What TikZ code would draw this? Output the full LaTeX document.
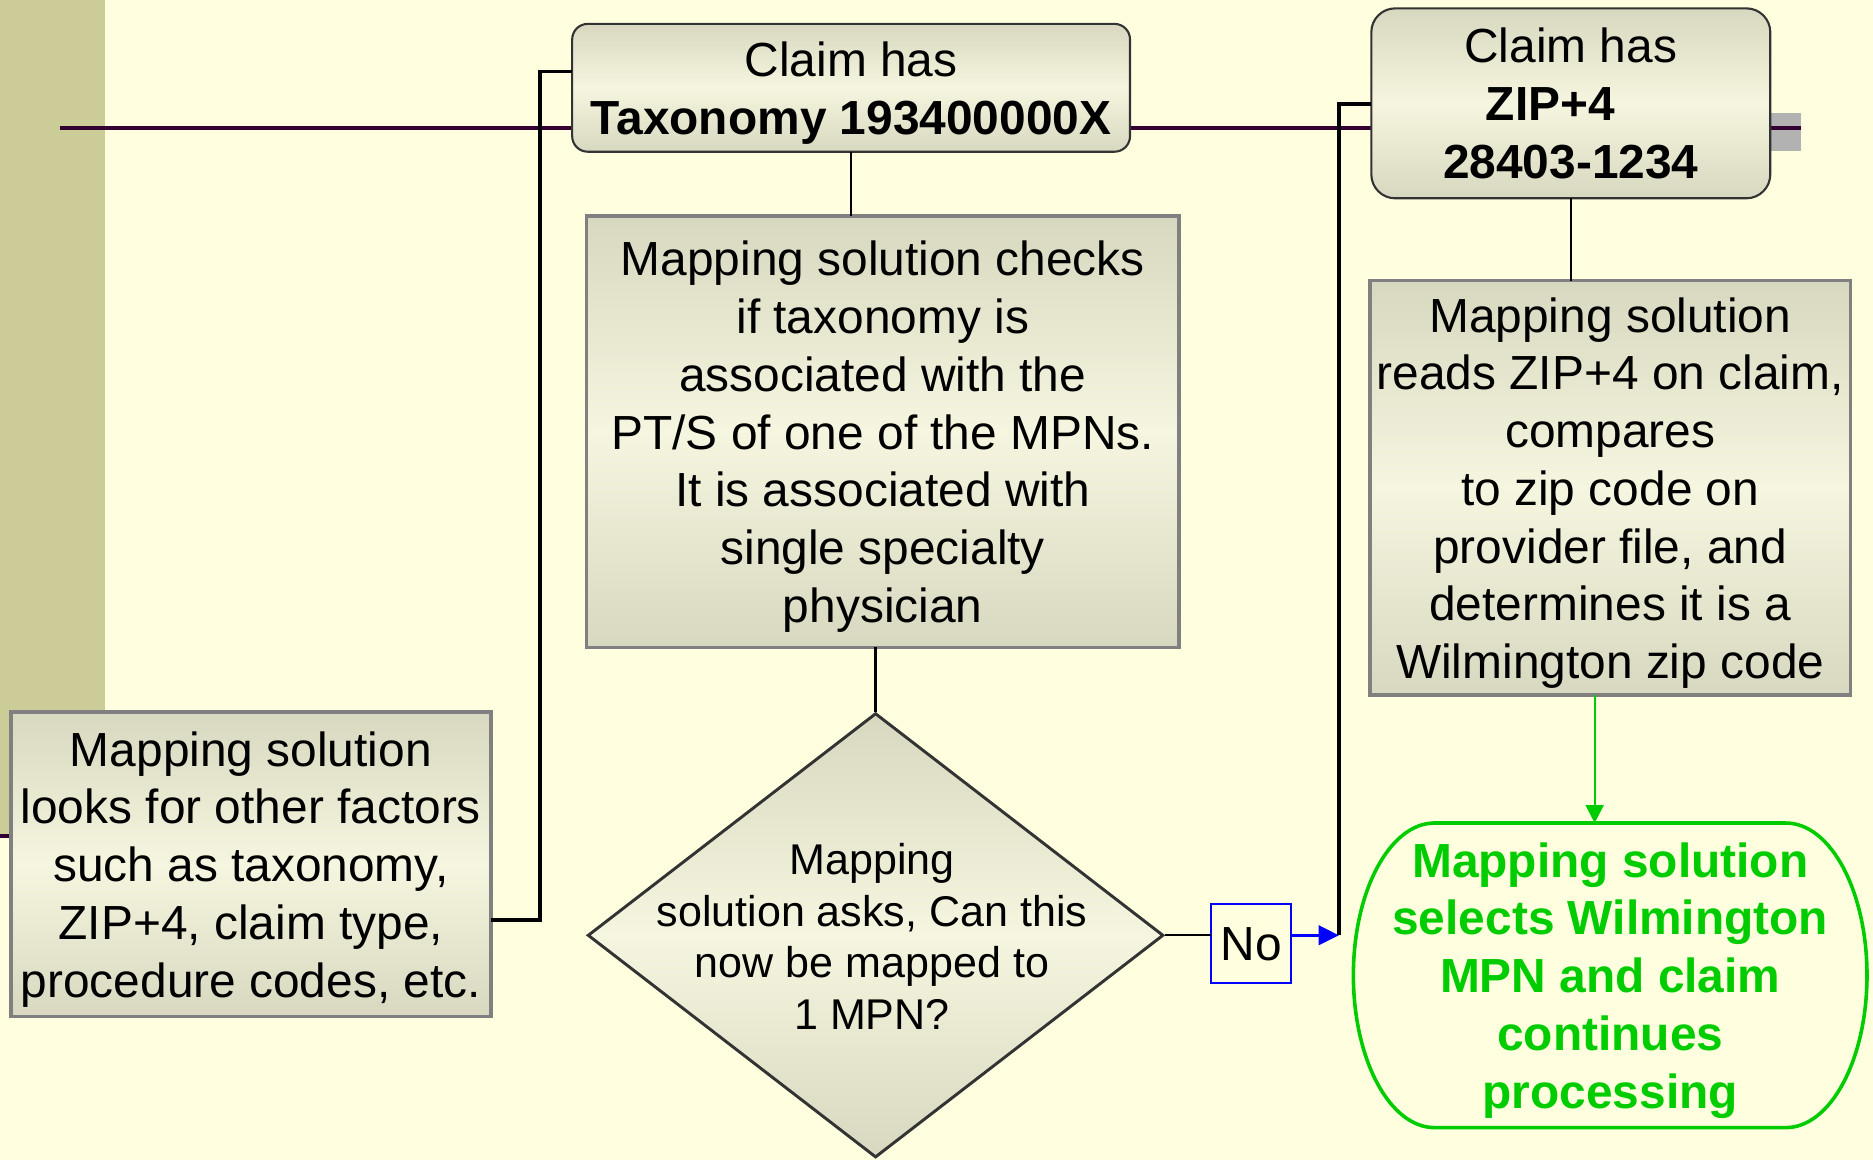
\documentclass[tikz,border=0pt]{standalone}
\usepackage{fontspec}
\setmainfont{Liberation Sans}
\usetikzlibrary{shapes.geometric,arrows.meta}
\definecolor{bgyellow}{RGB}{255,255,224}
\definecolor{stripe}{RGB}{204,204,153}
\definecolor{rulepurple}{RGB}{51,0,51}
\definecolor{boxdark}{RGB}{216,216,192}
\definecolor{boxlight}{RGB}{246,246,224}
\definecolor{okgreen}{RGB}{0,204,0}

\begin{document}
\begin{tikzpicture}[scale=0.2,
    txt/.style={font=\fontsize{22.8}{27.5}\selectfont, align=center, inner sep=0pt, outer sep=0pt, text depth=0pt},
    box/.style={txt, draw=gray, line width=1.7pt, top color=boxdark, bottom color=boxdark, middle color=boxlight},
    title/.style={box, draw=black!80, line width=1pt},
    decision/.style={diamond, draw=black!80, line width=1.4pt, top color=boxdark, bottom color=boxdark, middle color=boxlight, inner sep=0pt},
    answer/.style={txt, draw=blue, line width=0.9pt, fill=bgyellow},
    terminal/.style={txt, text=okgreen, font=\fontsize{22.8}{27.5}\selectfont\bfseries},
    link/.style={black, line width=0.8pt},
    bracket/.style={black, line width=1.7pt}]
  \useasboundingbox (0,0) rectangle (156.8,-97.1);
  % background and slide rule
  \fill [bgyellow] (0,0) rectangle (156.8,-97.1);
  \fill [stripe] (0,0) rectangle (8.8,-70);
  \draw [rulepurple, line width=1.7pt] (0,-70) -- (10,-70);
  \fill [black!30] (148.3,-9.5) rectangle (150.8,-12.6);
  \draw [rulepurple, line width=1.7pt] (5,-10.7) -- (150.8,-10.7);

  % boxes
  \node [title, rounded corners=0.26cm, minimum width=9.34cm, minimum height=2.14cm] (tax) at (71.25,-7.35)
    {Claim has\\ \textbf{Taxonomy 193400000X}};
  \node [title, rounded corners=0.4cm, minimum width=6.68cm, minimum height=3.18cm] (zip) at (131.5,-8.65)
    {Claim has\\ \textbf{ZIP+4}\rule{0.68cm}{0pt}\\ \textbf{28403-1234}};
  \node [box, minimum width=9.92cm, minimum height=7.22cm] (check) at (73.9,-36.15)
    {Mapping solution checks\\ if taxonomy is\\ associated with the\\ PT/S of one of the MPNs.\\ It is associated with\\ single specialty\\ physician};
  \node [box, minimum width=8.04cm, minimum height=5.1cm] (other) at (21,-72.35)
    {Mapping solution\\ looks for other factors\\ such as taxonomy,\\ ZIP+4, claim type,\\ procedure codes, etc.};
  \node [box, minimum width=8.04cm, minimum height=6.94cm] (reads) at (134.8,-40.85)
    {Mapping solution\\ reads ZIP+4 on claim,\\ compares\\ to zip code on\\ provider file, and\\ determines it is a\\ Wilmington zip code};
  \node [decision, minimum width=9.64cm, minimum height=7.44cm] (ask) at (73.3,-78.3) {};
  \node [txt, font=\fontsize{20.5}{24.5}\selectfont] (asktext) at (73,-78.4)
    {Mapping\\ solution asks, Can this\\ now be mapped to\\ 1 MPN?};
  \node [answer, minimum width=1.34cm, minimum height=1.32cm] (no) at (104.75,-79) {No};
  \node [terminal, minimum width=8.6cm, minimum height=5.1cm] (sel) at (134.8,-81.65)
    {Mapping solution\\ selects Wilmington\\ MPN and claim\\ continues\\ processing};
  \draw [okgreen, line width=1.7pt] (sel.north west) ++(6.8,0) -- ++(29.4,0)
    arc [start angle=90, end angle=-90, x radius=6.8, y radius=12.75] -- ++(-29.4,0)
    arc [start angle=270, end angle=90, x radius=6.8, y radius=12.75] -- cycle;

  \coordinate (jz) at (112.1,-8.7);
  \coordinate (jt) at (112.1,-78.3);
  \coordinate (jx) at (45.2,-6);
  \coordinate (jo) at (45.2,-77);
  \coordinate (gz) at (133.5,-58.2);

  % connectors
  \draw [link] (tax.south) -- (tax.south |- check.north);
  \draw [link] (zip.south) -- (zip.south |- reads.north);
  \draw [link, line width=1.2pt] (ask.north |- check.south) -- (ask.north);
  \draw [link] (ask.east) -- (ask.east -| no.west);
  \draw [bracket] (other.east |- jo) -- (jo) -- (jx) -- (jx -| tax.west);
  \draw [bracket] (jt) -- (jz) -- (jz -| zip.west);
  \draw [blue, line width=1.7pt, -{Triangle[length=0.34cm,width=0.32cm]}] (ask.east -| no.east) -- (jt);
  \draw [okgreen, line width=1.1pt, -{Triangle[length=0.3cm,width=0.3cm]}] (gz) -- (gz |- sel.north);
\end{tikzpicture}
\end{document}
